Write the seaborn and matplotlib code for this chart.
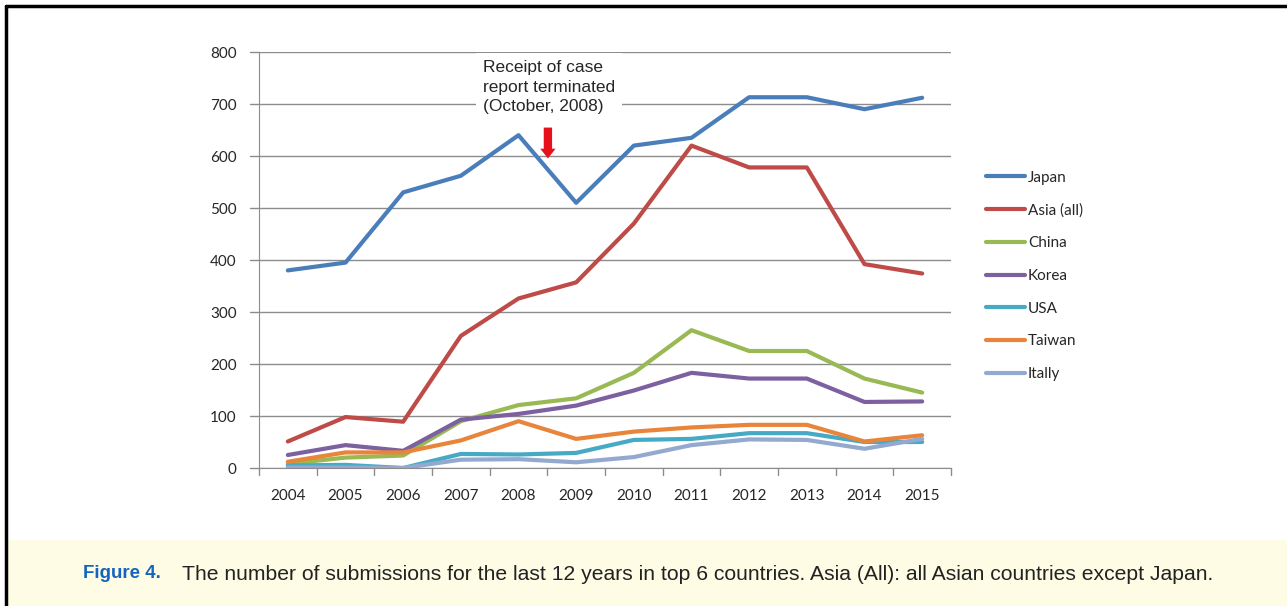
import pandas as pd
import numpy as np
import matplotlib
matplotlib.use("Agg")
import matplotlib.pyplot as plt
import seaborn as sns
from matplotlib.lines import Line2D
from matplotlib.patches import Rectangle

# === Data ===
years = [2004, 2005, 2006, 2007, 2008, 2009, 2010, 2011, 2012, 2013, 2014, 2015]
japan = [380, 395, 530, 562, 640, 510, 620, 635, 713, 713, 690, 712]
asia_all = [51, 98, 89, 254, 326, 357, 470, 620, 578, 578, 392, 374]
china = [8, 20, 24, 90, 121, 134, 183, 265, 225, 225, 172, 145]
korea = [25, 44, 33, 93, 104, 120, 149, 183, 172, 172, 127, 128]
usa = [5, 6, 0, 27, 26, 29, 54, 56, 67, 67, 50, 50]
taiwan = [12, 30, 30, 53, 90, 56, 70, 78, 83, 83, 51, 63]
italy = [1, 1, 0, 16, 17, 11, 21, 44, 55, 54, 37, 56]

series_names = ["Japan", "Asia (all)", "China", "Korea", "USA", "Taiwan", "Itally"]
series_values = [japan, asia_all, china, korea, usa, taiwan, italy]
colors = ["#4A7EBB", "#BE4B48", "#98B954", "#7D60A0", "#46AAC5", "#E9853A", "#93A9CF"]

yticks = [0, 100, 200, 300, 400, 500, 600, 700, 800]

# === Long-form frame ===
rows = []
for name, vals in zip(series_names, series_values):
    for i, v in enumerate(vals):
        rows.append({"pos": i, "year": years[i], "country": name, "count": v})
df = pd.DataFrame(rows)

# === Figure ===
sns.set_style("white")
plt.rcParams["font.family"] = ["Lato", "DejaVu Sans"]

fig = plt.figure(figsize=(12.87, 6.06), dpi=100)
ax = fig.add_axes([259 / 1287, 1 - 468 / 606, 692 / 1287, 416 / 606])

sns.lineplot(data=df, x="pos", y="count", hue="country", hue_order=series_names,
             palette=colors, linewidth=3, ax=ax, legend=False)

ax.set_xlim(-0.5, len(years) - 0.5)
ax.set_ylim(0, 800)
ax.set_yticks(yticks)
ax.set_yticklabels([str(t) for t in yticks], fontsize=11)
ax.set_xticks(range(len(years)))
ax.set_xticklabels([str(y) for y in years], fontsize=11)
ax.tick_params(axis="x", length=0, pad=15)
ax.tick_params(axis="y", length=0, pad=16)
ax.set_xlabel("")
ax.set_ylabel("")

# gridlines + excel-like ticks
ax.grid(axis="y", color="#8C8C8C", linewidth=1)
ax.set_axisbelow(True)
for s in ["top", "right"]:
    ax.spines[s].set_visible(False)
ax.spines["left"].set_color("#8C8C8C")
ax.spines["bottom"].set_color("#8C8C8C")
for t in yticks:
    ax.plot([-0.65, -0.5], [t, t], color="#8C8C8C", lw=1, clip_on=False, zorder=0)
for b in np.arange(-0.5, len(years), 1.0):
    ax.plot([b, b], [0, -14], color="#8C8C8C", lw=1, clip_on=False, zorder=0)

# annotation
ax.text(3.38, 785, "Receipt of case\nreport terminated\n(October, 2008)",
        fontsize=12.5, family=["Liberation Sans"], va="top", ha="left", linespacing=1.4,
        bbox=dict(facecolor="white", edgecolor="none", pad=5))
ax.annotate("", xy=(4.51, 590), xytext=(4.51, 660),
            arrowprops=dict(arrowstyle="simple,head_width=1.1,head_length=0.7,tail_width=0.6",
                            color="#E8101A", lw=0))

# legend
handles = [Line2D([0], [0], color=c, lw=3) for c in colors]
fig.legend(handles, series_names, loc="upper left", bbox_to_anchor=(972 / 1287, 1 - 157 / 606),
           frameon=False, fontsize=11, handlelength=2.6, handletextpad=0.15, labelspacing=1.22)

# caption band and frame
fig.add_artist(Rectangle((8 / 1287, 0), 1, 66 / 606, transform=fig.transFigure,
                         facecolor="#FEFCE5", edgecolor="none", zorder=0))
fig.add_artist(Line2D([6 / 1287, 1], [1 - 6 / 606, 1 - 6 / 606], color="black", lw=2.5,
                      transform=fig.transFigure))
fig.add_artist(Line2D([6 / 1287, 6 / 1287], [0, 1 - 6 / 606], color="black", lw=2.5,
                      transform=fig.transFigure))
fig.text(83 / 1287, 1 - 574 / 606, "Figure 4.", color="#1565C0", fontsize=13.5, weight="bold",
         family=["Liberation Sans"], va="center", ha="left")
fig.text(182 / 1287, 1 - 574 / 606,
         "The number of submissions for the last 12 years in top 6 countries. Asia (All): all Asian countries except Japan.",
         color="#222222", fontsize=15.2, family=["Liberation Sans"], va="center", ha="left")

fig.savefig("out.png", dpi=100)
